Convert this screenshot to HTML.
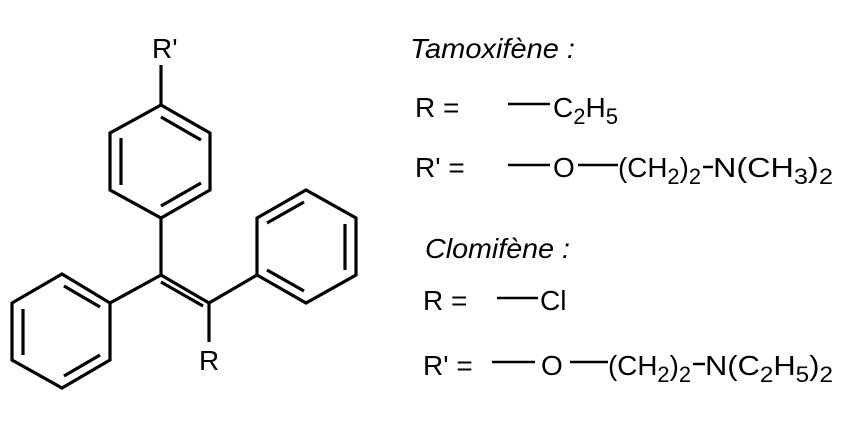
<!DOCTYPE html>
<html><head><meta charset="utf-8"><style>
html,body{margin:0;padding:0;background:#fff;}
svg{display:block;}
text{font-family:"Liberation Sans",Arial,sans-serif;font-size:28px;fill:#000;}
.s{font-size:22px;}
</style></head><body>
<svg width="846" height="422" viewBox="0 0 846 422" xmlns="http://www.w3.org/2000/svg">
<g stroke="#000" stroke-width="3.2" fill="none" stroke-linecap="butt" stroke-linejoin="miter">
<polygon points="161,105 210,133 210,190 161,218 110,190 110,133"/>
<line x1="161" y1="105" x2="161" y2="65"/>
<line x1="161" y1="117" x2="201" y2="140"/>
<line x1="121" y1="138" x2="121" y2="185"/>
<line x1="161" y1="206" x2="201" y2="183"/>
<line x1="161" y1="218" x2="161" y2="275"/>
<line x1="161" y1="275" x2="209" y2="303"/>
<line x1="161" y1="282" x2="203" y2="306"/>
<line x1="161" y1="275" x2="110" y2="303"/>
<line x1="209" y1="303" x2="257" y2="275"/>
<line x1="209" y1="303" x2="209" y2="342"/>
<polygon points="110,303 110,360 62,388 12,360 12,303 62,274"/>
<line x1="64" y1="286" x2="100" y2="307"/>
<line x1="23" y1="309" x2="23" y2="355"/>
<line x1="64" y1="376" x2="100" y2="355"/>
<polygon points="257,275 257,218 306,190 356,218 356,275 306,303"/>
<line x1="267" y1="223" x2="304" y2="202"/>
<line x1="345" y1="224" x2="345" y2="270"/>
<line x1="304" y1="291" x2="267" y2="270"/>
</g>
<text x="152" y="58">R'</text>
<text x="199" y="370">R</text>

<text x="410" y="58" font-style="italic" textLength="165" lengthAdjust="spacingAndGlyphs">Tamoxifène :</text>
<text x="415" y="117">R =</text>
<line x1="508" y1="104" x2="550" y2="104" stroke="#000" stroke-width="2.5"/>
<text x="553" y="117">C<tspan class="s" dy="7">2</tspan><tspan dy="-7">H</tspan><tspan class="s" dy="7">5</tspan></text>

<text x="415" y="177">R' =</text>
<line x1="508" y1="165" x2="550" y2="165" stroke="#000" stroke-width="2.5"/>
<text x="553" y="177">O</text>
<line x1="578" y1="165" x2="618" y2="165" stroke="#000" stroke-width="2.5"/>
<text x="618" y="177" textLength="83" lengthAdjust="spacingAndGlyphs">(CH<tspan class="s" dy="7">2</tspan><tspan dy="-7">)</tspan><tspan class="s" dy="7">2</tspan></text>
<line x1="703" y1="167" x2="713" y2="167" stroke="#000" stroke-width="2.5"/>
<text x="713" y="177" textLength="120" lengthAdjust="spacingAndGlyphs">N(CH<tspan class="s" dy="7">3</tspan><tspan dy="-7">)</tspan><tspan class="s" dy="7">2</tspan></text>

<text x="425" y="258" font-style="italic" textLength="145" lengthAdjust="spacingAndGlyphs">Clomifène :</text>
<text x="423" y="310">R =</text>
<line x1="497" y1="298" x2="538" y2="298" stroke="#000" stroke-width="2.5"/>
<text x="540" y="310">Cl</text>

<text x="423" y="375">R' =</text>
<line x1="492" y1="362" x2="535" y2="362" stroke="#000" stroke-width="2.5"/>
<text x="541" y="375">O</text>
<line x1="570" y1="362" x2="608" y2="362" stroke="#000" stroke-width="2.5"/>
<text x="608" y="375" textLength="83" lengthAdjust="spacingAndGlyphs">(CH<tspan class="s" dy="7">2</tspan><tspan dy="-7">)</tspan><tspan class="s" dy="7">2</tspan></text>
<line x1="693" y1="364" x2="705" y2="364" stroke="#000" stroke-width="2.5"/>
<text x="705" y="375" textLength="128" lengthAdjust="spacingAndGlyphs">N(C<tspan class="s" dy="7">2</tspan><tspan dy="-7">H</tspan><tspan class="s" dy="7">5</tspan><tspan dy="-7">)</tspan><tspan class="s" dy="7">2</tspan></text>
</svg>
</body></html>
